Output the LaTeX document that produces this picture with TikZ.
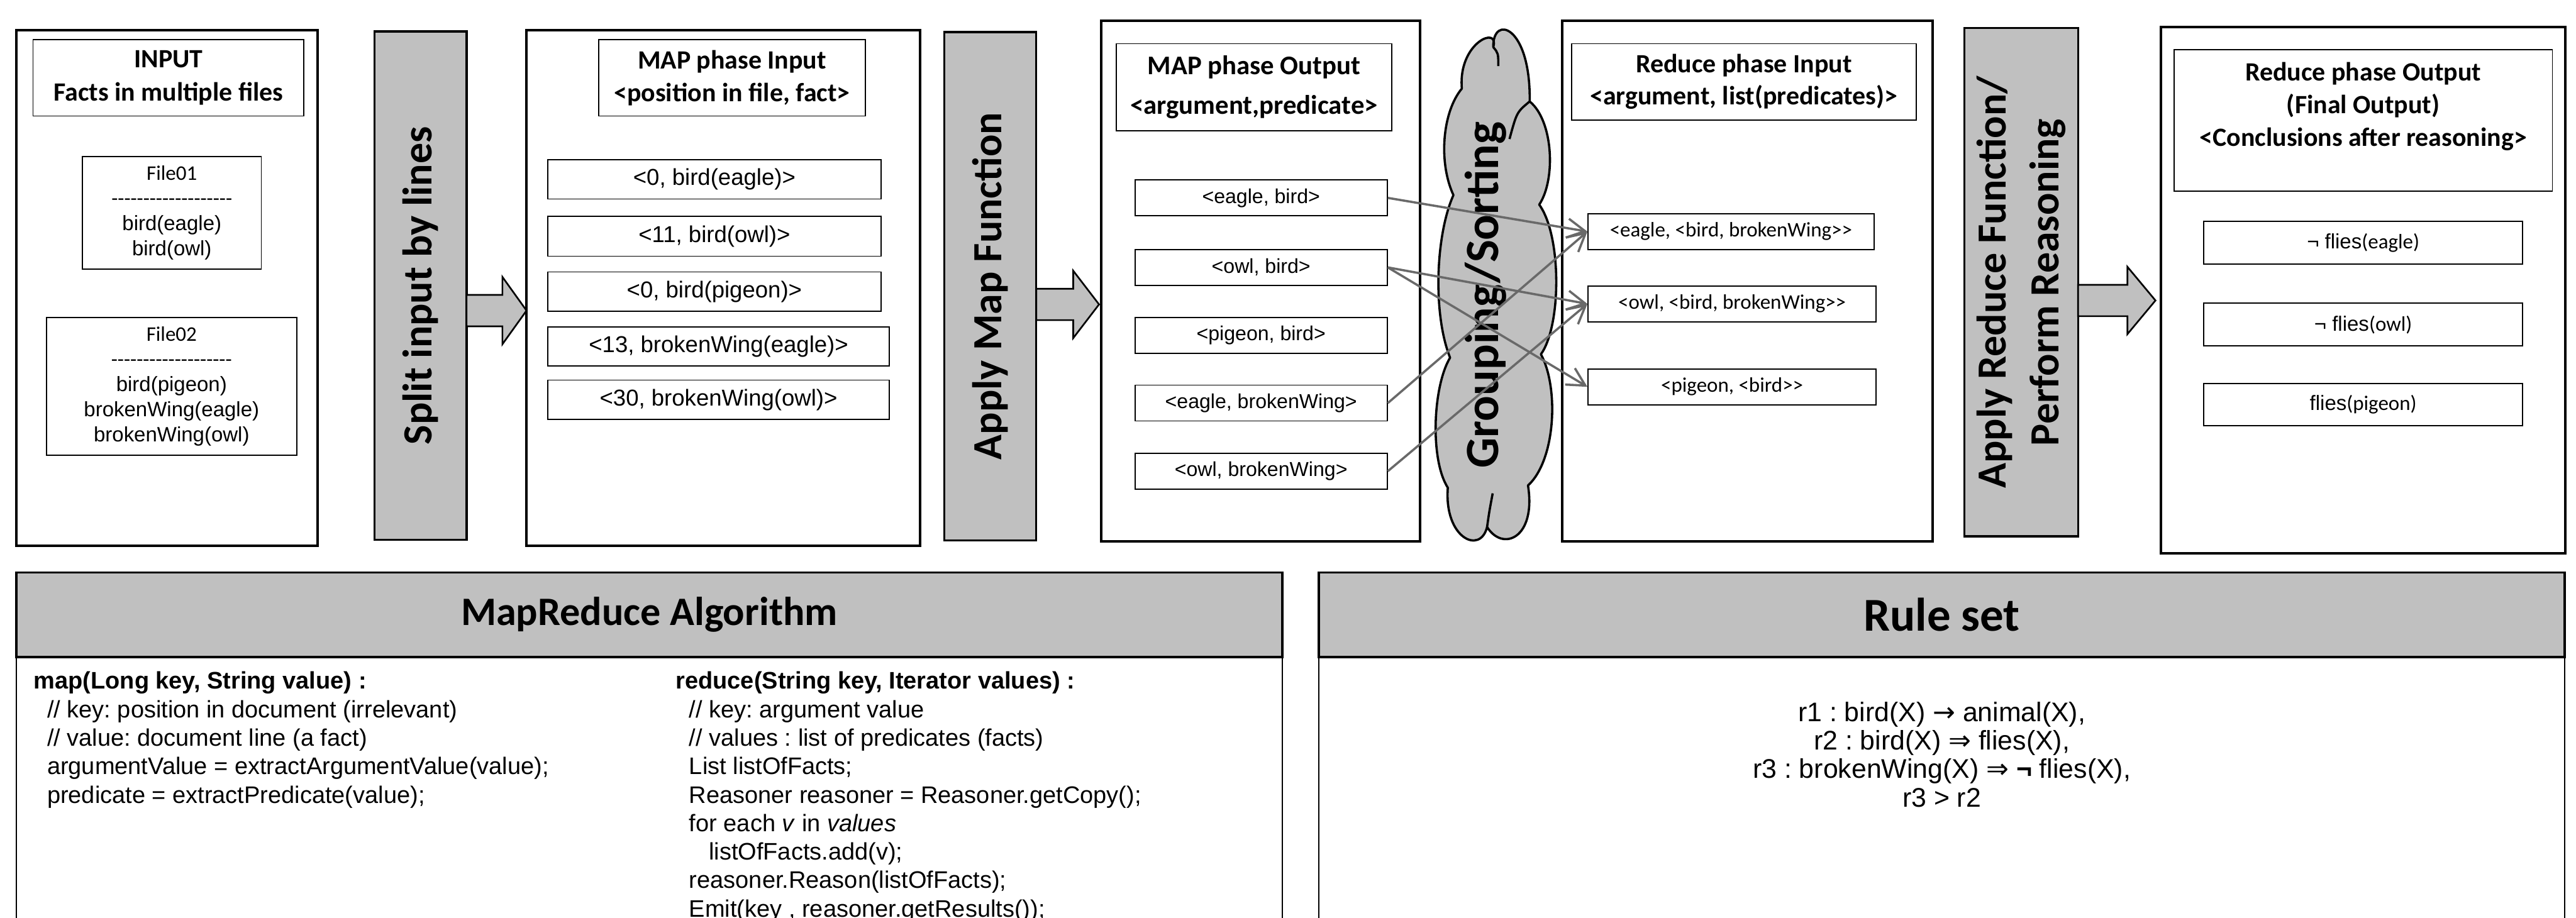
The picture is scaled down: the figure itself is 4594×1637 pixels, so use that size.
\documentclass[tikz,border=0pt]{standalone}
\usepackage{fontspec}
\setmainfont{Liberation Sans}
\newfontfamily\carl{Carlito}
\newfontfamily\symf{DejaVu Sans}
\usetikzlibrary{arrows.meta}
\definecolor{barfill}{RGB}{192,192,192}
\definecolor{flowgray}{RGB}{105,105,105}
\frenchspacing
\newcommand{\fsz}[2]{\fontsize{#1}{#2}\selectfont}
\newcommand{\hy}{\mbox{-}}
\newcommand{\hyphline}{\hy\hy\hy\hy\hy\hy\hy\hy\hy\hy\hy\hy\hy\hy\hy\hy\hy\hy\hy}
\newcommand{\fatarrow}[4]{% tail x, head base x, tip x, middle y
  \draw[fat] (#1,#4-28) -- (#2,#4-28) -- (#2,#4-60) -- (#3,#4)
    -- (#2,#4+60) -- (#2,#4+28) -- (#1,#4+28) -- cycle;}
\tikzset{
  panel/.style={draw,line width=4.5pt,inner sep=0pt},
  tbox/.style={draw,line width=2pt,inner sep=0pt,align=center,font=\carl\bfseries\fsz{47}{59}},
  item/.style={draw,line width=2pt,inner sep=0pt,align=center},
  bar/.style={draw,line width=4pt,fill=barfill,inner sep=0pt,align=center,rotate=90,
    font=\carl\bfseries\fsz{74}{94}},
  fat/.style={draw,line width=3pt,fill=barfill},
  puff/.style={draw,line width=4pt,fill=barfill,line join=round},
  flow/.style={draw=flowgray,line width=4pt,-{Straight Barb[length=32pt,width=34pt]}},
  hdr/.style={draw,line width=4pt,fill=barfill,inner sep=0pt},
  body/.style={draw,line width=2pt,inner sep=0pt},
  code/.style={anchor=north west,inner sep=0pt,align=left,font=\fsz{42.6}{50.8}},
}
\begin{document}
\begin{tikzpicture}[x=1pt,y=-1pt]
  \clip (0,0) rectangle (4594,1637);
  % input
  \node[panel, minimum width=537, minimum height=920] (input) at (297.5,514) {};
  \node[tbox, minimum width=483, minimum height=136] (intitle) at (300.5,139) {INPUT\\Facts in multiple files};
  \node[item, minimum width=319, minimum height=201, font=\fsz{37}{45}] (file1) at (306.5,379.5)
    {{\carl File01}\\{\carl\hyphline}\\bird(eagle)\\bird(owl)};
  \node[item, minimum width=446, minimum height=246, font=\fsz{37}{45}] (file2) at (306,689)
    {{\carl File02}\\{\carl\hyphline}\\bird(pigeon)\\brokenWing(eagle)\\brokenWing(owl)};
  \node[bar, minimum width=907, minimum height=164] (split) at (750,509.5) {Split input by lines};
  \fatarrow{832}{896}{939}{554}
  % map phase input
  \node[panel, minimum width=702, minimum height=920] (mapin) at (1290,514) {};
  \node[tbox, minimum width=475, minimum height=136] (mititle) at (1305.5,139) {MAP phase Input\\<position in file, fact>};
  \node[item, minimum width=594, minimum height=70, font=\fsz{41}{49}] (mi1) at (1274,320) {<0, bird(eagle)>};
  \node[item, minimum width=594, minimum height=71, font=\fsz{41}{49}] (mi2) at (1274,421.5) {<11, bird(owl)>};
  \node[item, minimum width=594, minimum height=70, font=\fsz{41}{49}] (mi3) at (1274,520) {<0, bird(pigeon)>};
  \node[item, minimum width=609, minimum height=70, font=\fsz{41}{49}] (mi4) at (1281.5,618) {<13, brokenWing(eagle)>};
  \node[item, minimum width=609, minimum height=70, font=\fsz{41}{49}] (mi5) at (1281.5,713) {<30, brokenWing(owl)>};
  \node[bar, minimum width=907, minimum height=164] (mapfn) at (1766,510.5) {Apply Map Function};
  \fatarrow{1848}{1914}{1960}{543}
  % map phase output
  \node[panel, minimum width=569, minimum height=929] (mapout) at (2248.5,501.5) {};
  \node[tbox, minimum width=491, minimum height=155, font=\carl\bfseries\fsz{48}{71}] (motitle) at (2236.5,155.5)
    {MAP phase Output\\<argument,predicate>};
  \node[item, minimum width=450, minimum height=64, font=\fsz{36}{43}] (mo1) at (2249,353) {<eagle, bird>};
  \node[item, minimum width=450, minimum height=64, font=\fsz{36}{43}] (mo2) at (2249,477) {<owl, bird>};
  \node[item, minimum width=450, minimum height=64, font=\fsz{36}{43}] (mo3) at (2249,598) {<pigeon, bird>};
  \node[item, minimum width=450, minimum height=64, font=\fsz{36}{43}] (mo4) at (2249,719) {<eagle, brokenWing>};
  \node[item, minimum width=450, minimum height=64, font=\fsz{36}{43}] (mo5) at (2249,840.5) {<owl, brokenWing>};
  % grouping cloud
  \draw[puff] (2663,84) .. controls (2662,25) and (2730,45) .. (2728,181)
    .. controls (2770,215) and (2775,320) .. (2745,365)
    .. controls (2785,420) and (2785,580) .. (2748,632)
    .. controls (2780,690) and (2775,820) .. (2725,866)
    .. controls (2740,960) and (2680,985) .. (2652,940)
    .. controls (2640,990) and (2575,960) .. (2582,870)
    .. controls (2550,820) and (2555,690) .. (2586,638)
    .. controls (2555,560) and (2560,420) .. (2592,348)
    .. controls (2565,290) and (2572,200) .. (2607,158)
    .. controls (2600,75) and (2675,45) .. (2663,84) -- cycle;
  \draw[line width=4pt] (2663,84) .. controls (2672,95) .. (2672,118);
  \draw[line width=4pt] (2728,181) .. controls (2705,200) .. (2692,248);
  \draw[line width=4pt] (2652,940) .. controls (2656,912) .. (2662,880);
  \node[rotate=90, inner sep=0pt, font=\carl\bfseries\fsz{85}{100}] (grp) at (2650,526) {Grouping/Sorting};
  % reduce phase input
  \node[panel, minimum width=661, minimum height=929] (redin) at (3116.5,501.5) {};
  \node[tbox, minimum width=614, minimum height=136, font=\carl\bfseries\fsz{47}{57}] (rititle) at (3110,146)
    {Reduce phase Input\\<argument, list(predicates)>};
  \node[item, minimum width=510, minimum height=64, font=\carl\fsz{37}{44}] (ri1) at (3087,413) {<eagle, <bird, brokenWing>\mbox{}>};
  \node[item, minimum width=514, minimum height=64, font=\carl\fsz{37}{44}] (ri2) at (3089,542) {<owl, <bird, brokenWing>\mbox{}>};
  \node[item, minimum width=514, minimum height=64, font=\carl\fsz{37}{44}] (ri3) at (3089,690) {<pigeon, <bird>\mbox{}>};
  \node[bar, minimum width=907, minimum height=203] (redfn) at (3604.5,503.5) {Apply Reduce Function/\\Perform Reasoning};
  \fatarrow{3706}{3794}{3844}{536}
  % reduce phase output
  \node[panel, minimum width=721, minimum height=939] (redout) at (4214.5,517.5) {};
  \node[tbox, minimum width=675, minimum height=252, font=\carl\bfseries\fsz{47}{58}] (rotitle) at (4214.5,215)
    {Reduce phase Output\\(Final Output)\\<Conclusions after reasoning>\\~};
  \node[item, minimum width=569, minimum height=76, font=\fsz{37}{44}] (ro1) at (4214.5,433) {¬ flies{\carl(eagle)}};
  \node[item, minimum width=569, minimum height=76, font=\fsz{37}{44}] (ro2) at (4214.5,579) {¬ flies{\carl(owl)}};
  \node[item, minimum width=569, minimum height=75, font=\fsz{37}{44}] (ro3) at (4214.5,721.5) {flies{\carl(pigeon)}};
  % shuffle
  \draw[flow] (mo1.east) -- (ri1.west);
  \draw[flow] (mo2.east) -- (ri2.west);
  \draw[flow] (mo2.east) -- (ri3.west);
  \draw[flow] (mo4.east) -- (ri1.west);
  \draw[flow] (mo5.east) -- (ri2.west);
  % algorithm
  \node[body, minimum width=2258, minimum height=540] (algbody) at (1158,1442) {};
  \node[hdr, minimum width=2258, minimum height=151, font=\carl\bfseries\fsz{72}{80}] (alghead) at (1158,1096.5) {MapReduce Algorithm};
  \node[code] (mapcode) at (60,1198) {\textbf{map(Long key, String value) :}\\
    \hspace*{24pt}// key: position in document (irrelevant)\\
    \hspace*{24pt}// value: document line (a fact)\\
    \hspace*{24pt}argumentValue = extractArgumentValue(value);\\
    \hspace*{24pt}predicate = extractPredicate(value);};
  \node[code] (redcode) at (1205,1198) {\textbf{reduce(String key, Iterator values) :}\\
    \hspace*{24pt}// key: argument value\\
    \hspace*{24pt}// values : list of predicates (facts)\\
    \hspace*{24pt}List listOfFacts;\\
    \hspace*{24pt}Reasoner reasoner = Reasoner.getCopy();\\
    \hspace*{24pt}for each \textit{v} in \textit{values}\\
    \hspace*{59pt}listOfFacts.add(v);\\
    \hspace*{24pt}reasoner.Reason(listOfFacts);\\
    \hspace*{24pt}Emit(key , reasoner.getResults());};
  % rules
  \node[body, minimum width=2222, minimum height=540] (rulebody) at (3463,1442) {};
  \node[hdr, minimum width=2222, minimum height=151, font=\carl\bfseries\fsz{84}{90}] (rulehead) at (3463,1096.5) {Rule set};
  \node[anchor=north, inner sep=0pt, align=center, font=\fsz{48}{50.7}] (rules) at (3463,1252)
    {r1 : bird(X) {\symf →} animal(X),\\
     r2 : bird(X) {\symf ⇒} flies(X),\\
     r3 : brokenWing(X) {\symf ⇒} {\bfseries ¬} flies(X),\\
     r3 > r2};
\end{tikzpicture}
\end{document}
